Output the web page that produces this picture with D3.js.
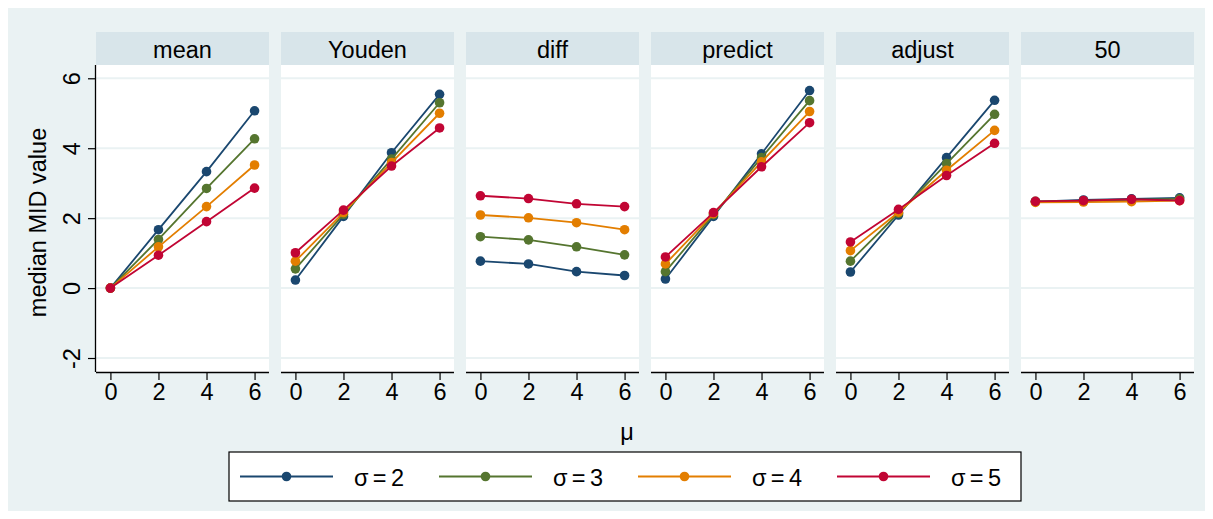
<!DOCTYPE html>
<html>
<head>
<meta charset="utf-8">
<script src="https://cdn.jsdelivr.net/npm/d3@7/dist/d3.min.js"></script>
<style>
  html, body { margin: 0; padding: 0; background: #ffffff; }
  svg { display: block; }
  text { font-family: "Liberation Sans", Arial, Helvetica, sans-serif; fill: #000; }
</style>
</head>
<body>
<svg id="chart" width="1213" height="519"></svg>
<script>
// Panels (estimation methods), x values (mu), series (sigma)
const panels = ["mean", "Youden", "diff", "predict", "adjust", "50"];
const muValues = [0, 2, 4, 6];
const sigmaLabels = ["σ = 2", "σ = 3", "σ = 4", "σ = 5"];
const seriesColors = ["#1a476f", "#55752f", "#e37e00", "#c10534"];
const yTicks = [-2, 0, 2, 4, 6];
const xTicks = [0, 2, 4, 6];

// median MID value, one array per panel, rows = sigma 2..5, columns = mu 0..6
const meanVals = [
  [0.00, 1.67, 3.33, 5.07],
  [0.00, 1.39, 2.85, 4.27],
  [0.00, 1.18, 2.33, 3.52],
  [0.00, 0.94, 1.90, 2.86]
];
const youdenVals = [
  [0.23, 2.05, 3.87, 5.54],
  [0.55, 2.11, 3.69, 5.30],
  [0.77, 2.16, 3.59, 5.00],
  [1.01, 2.23, 3.49, 4.58]
];
const diffVals = [
  [0.77, 0.69, 0.47, 0.36],
  [1.47, 1.38, 1.18, 0.95],
  [2.09, 2.01, 1.87, 1.67],
  [2.64, 2.56, 2.41, 2.33]
];
const predictVals = [
  [0.26, 2.05, 3.84, 5.65],
  [0.47, 2.10, 3.73, 5.36],
  [0.69, 2.13, 3.61, 5.05],
  [0.89, 2.16, 3.47, 4.73]
];
const adjustVals = [
  [0.46, 2.09, 3.73, 5.37],
  [0.77, 2.14, 3.56, 4.97],
  [1.07, 2.17, 3.37, 4.51],
  [1.32, 2.25, 3.22, 4.14]
];
const fiftyVals = [
  [2.47, 2.52, 2.55, 2.58],
  [2.48, 2.49, 2.52, 2.55],
  [2.45, 2.46, 2.47, 2.50],
  [2.48, 2.50, 2.54, 2.50]
];
const panelData = [meanVals, youdenVals, diffVals, predictVals, adjustVals, fiftyVals];

const svg = d3.select("#chart");
const W = 1213, H = 519;
const FS = 23.5;

// outer graph region
svg.append("rect").attr("x", 8).attr("y", 8).attr("width", W - 16).attr("height", H - 16)
  .attr("fill", "#eaf2f3");

const plotTop = 65, plotBottom = 372, stripTop = 32;

const band = d3.scaleBand().domain(panels).range([96, 1194])
  .paddingInner(0.065).paddingOuter(0);
const y = d3.scaleLinear().domain([-2.4, 6.38]).range([plotBottom, plotTop]);

panels.forEach((name, pi) => {
  const x0 = band(name), bw = band.bandwidth();
  const x = d3.scaleLinear().domain([-0.6, 6.6]).range([x0, x0 + bw]);
  const g = svg.append("g");

  // strip header
  g.append("rect").attr("x", x0).attr("y", stripTop).attr("width", bw)
    .attr("height", plotTop - stripTop).attr("fill", "#d8e5ea");
  g.append("text").attr("x", x0 + bw / 2).attr("y", (stripTop + plotTop) / 2 + 1)
    .attr("text-anchor", "middle").attr("dominant-baseline", "central")
    .attr("font-size", FS).text(name);

  // plot area
  g.append("rect").attr("x", x0).attr("y", plotTop).attr("width", bw)
    .attr("height", plotBottom - plotTop).attr("fill", "#ffffff");

  // gridlines
  g.selectAll("line.grid").data(yTicks).join("line")
    .attr("class", "grid")
    .attr("x1", x0).attr("x2", x0 + bw)
    .attr("y1", d => y(d)).attr("y2", d => y(d))
    .attr("stroke", "#eaf2f3").attr("stroke-width", 2);

  // x axis
  const xAxis = d3.axisBottom(x).tickValues(xTicks).tickSize(8).tickPadding(3)
    .tickFormat(d => String(d));
  const xg = g.append("g").attr("transform", `translate(0,${plotBottom})`).call(xAxis);
  xg.select(".domain").attr("d", `M${x0},0.5H${x0 + bw}`).attr("stroke", "#000").attr("stroke-width", 1.3);
  xg.selectAll(".tick line").attr("stroke", "#000").attr("stroke-width", 1.2);
  xg.selectAll(".tick text").attr("font-size", FS).attr("font-family", "Liberation Sans, Arial, sans-serif")
    .attr("fill", "#000");

  // series lines and markers
  const line = d3.line().x((d, i) => x(muValues[i])).y(d => y(d));
  panelData[pi].forEach((vals, si) => {
    g.append("path").attr("d", line(vals)).attr("fill", "none")
      .attr("stroke", seriesColors[si]).attr("stroke-width", 1.8);
    g.selectAll(null).data(vals).join("circle")
      .attr("cx", (d, i) => x(muValues[i])).attr("cy", d => y(d))
      .attr("r", 4.8).attr("fill", seriesColors[si]);
  });

  // left y axis on the first panel only
  if (pi === 0) {
    const yAxis = d3.axisLeft(y).tickValues(yTicks).tickSize(8).tickPadding(0).tickFormat(d => String(d));
    const yg = g.append("g").attr("transform", `translate(${x0},0)`).call(yAxis);
    yg.select(".domain").attr("d", `M-0.5,${plotTop}V${plotBottom}`).attr("stroke", "#000").attr("stroke-width", 1.3);
    yg.selectAll(".tick line").attr("stroke", "#000").attr("stroke-width", 1.2);
    yg.selectAll(".tick text").remove();
    yg.selectAll(".tick").append("text")
      .attr("transform", "translate(-24,0) rotate(-90)")
      .attr("text-anchor", "middle").attr("dominant-baseline", "central")
      .attr("font-size", FS).attr("fill", "#000")
      .text(d => String(d));
  }
});

// axis titles
svg.append("text").attr("transform", `translate(38,${(plotTop + plotBottom) / 2 + 4}) rotate(-90)`)
  .attr("text-anchor", "middle").attr("dominant-baseline", "central")
  .attr("font-size", FS).text("median MID value");
svg.append("text").attr("x", 627).attr("y", 432)
  .attr("text-anchor", "middle").attr("dominant-baseline", "central")
  .attr("font-size", FS).text("μ");

// legend
const legX = 229, legY = 452, legW = 792, legH = 49;
const lg = svg.append("g");
lg.append("rect").attr("x", legX).attr("y", legY).attr("width", legW).attr("height", legH)
  .attr("fill", "#ffffff").attr("stroke", "#000").attr("stroke-width", 1.2);
const itemX = d3.scaleLinear().domain([0, 1]).range([240, 439]);
sigmaLabels.forEach((lab, i) => {
  const lx = itemX(i), cy = legY + legH / 2;
  lg.append("line").attr("x1", lx).attr("x2", lx + 93).attr("y1", cy).attr("y2", cy)
    .attr("stroke", seriesColors[i]).attr("stroke-width", 1.8);
  lg.append("circle").attr("cx", lx + 46.5).attr("cy", cy).attr("r", 4.8).attr("fill", seriesColors[i]);
  lg.append("text").attr("x", lx + 114).attr("y", cy + 1).attr("dominant-baseline", "central")
    .attr("font-size", 23.5).attr("letter-spacing", -0.6).attr("word-spacing", -1).text(lab);
});
</script>
</body>
</html>
